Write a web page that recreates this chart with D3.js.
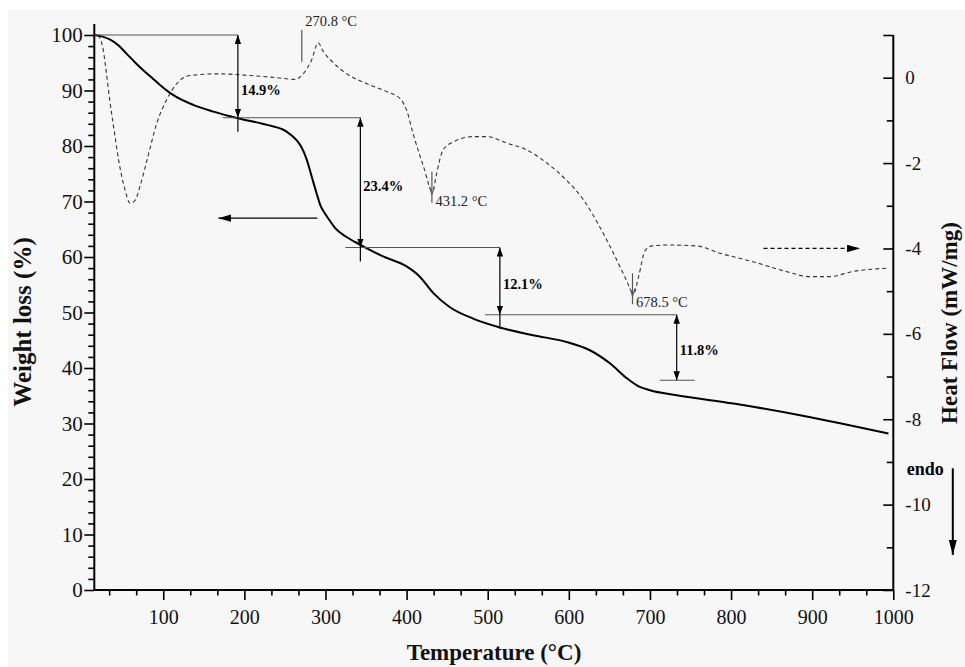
<!DOCTYPE html>
<html>
<head>
<meta charset="utf-8">
<script src="https://cdn.jsdelivr.net/npm/d3@7"></script>
<style>
  html, body { margin: 0; padding: 0; background: #fff; }
  svg { display: block; }
  text { font-family: "Liberation Serif", "Times New Roman", serif; }
</style>
</head>
<body>
<svg id="chart" width="965" height="667"></svg>
<script>
// TG curve: temperature (°C) and remaining mass (%)
const tgTemp = [15, 25, 34, 45, 55, 65, 75, 86, 96, 112, 137, 162, 192, 228, 252, 264, 270, 277, 283,
  289, 294, 300, 306, 312, 325, 343, 371, 400, 416, 433, 453, 482, 515, 556, 597, 626, 651, 672,
  686, 700, 733, 803, 885, 994];
const tgWeight = [100, 99.7, 99.2, 98.1, 96.6, 95.1, 93.7, 92.3, 91.0, 89.2, 87.4, 86.2, 85.0, 83.8,
  82.6, 81.1, 79.9, 77.5, 74.5, 71.5, 69.2, 67.7, 66.4, 65.2, 63.7, 62.2, 60.1, 58.3, 56.5, 53.5,
  51.0, 48.9, 47.3, 45.9, 44.7, 43.2, 40.8, 38.1, 36.7, 36.0, 35.1, 33.6, 31.5, 28.2];

// DSC curve: temperature (°C) and heat flow (mW/mg)
const dscTemp = [20, 26, 30, 34, 40, 45, 53, 59, 65, 72, 80, 92, 104, 117, 133, 166, 207, 240, 262,
  273, 283, 291, 297, 308, 328, 351, 376, 392, 400, 408, 421, 432, 437, 445, 458, 482, 499, 523,
  548, 573, 597, 618, 638, 655, 669, 680, 686, 694, 703, 724, 757, 786, 827, 868, 897, 921, 950, 994];
const dscHeat = [1.0, 0.65, 0.1, -0.52, -1.3, -1.93, -2.63, -2.94, -2.88, -2.5, -1.93, -1.07, -0.52,
  -0.13, 0.05, 0.09, 0.05, 0.0, -0.04, 0.1, 0.42, 0.82, 0.62, 0.38, 0.07, -0.14, -0.33, -0.49,
  -0.76, -1.31, -2.09, -2.67, -2.24, -1.69, -1.5, -1.38, -1.38, -1.53, -1.69, -2.0, -2.4, -2.86,
  -3.49, -4.11, -4.66, -5.05, -4.66, -4.05, -3.94, -3.92, -3.94, -4.11, -4.31, -4.54, -4.66,
  -4.66, -4.54, -4.46];

// Axis ticks
const tempTicks = [100, 200, 300, 400, 500, 600, 700, 800, 900, 1000];
const weightTicks = [0, 10, 20, 30, 40, 50, 60, 70, 80, 90, 100];
const heatTicks = [-12, -10, -8, -6, -4, -2, 0];

// Mass-loss steps: temperature where each step is measured, loss in %
const stepTemp = [192, 343, 515, 733];
const stepLoss = [14.9, 23.4, 12.1, 11.8];
const stepLabels = ["14.9%", "23.4%", "12.1%", "11.8%"];

// DSC peak temperatures
const peakTemp = [270.8, 431.2, 678.5];
const peakLabels = ["270.8 °C", "431.2 °C", "678.5 °C"];
const peakKind = ["exo", "endo", "endo"];

const tg = tgTemp.map((t, i) => ({ t, w: tgWeight[i] }));
const dsc = dscTemp.map((t, i) => ({ t, h: dscHeat[i] }));

const svg = d3.select("#chart");
const W = 965, H = 667;

// paper background
svg.append("rect").attr("width", W).attr("height", H).attr("fill", "#ffffff");
svg.append("rect").attr("x", 8).attr("y", 10).attr("width", W - 8).attr("height", H - 10)
  .attr("fill", "#f7f7f7");

const x = d3.scaleLinear().domain([15, 1000]).range([94.3, 893.3]);
const yW = d3.scaleLinear().domain([0, 100]).range([590, 35]);
const yH = d3.scaleLinear().domain([-12, 1]).range([590, 35]);

const x0 = x.range()[0], x1 = x(1000), yBase = yW(0);

// heat flow at a given temperature, linear between samples
function dscAt(t) {
  const i = Math.max(1, Math.min(dscTemp.length - 1, d3.bisectLeft(dscTemp, t)));
  const ta = dscTemp[i - 1], tb = dscTemp[i];
  return dscHeat[i - 1] + (dscHeat[i] - dscHeat[i - 1]) * (t - ta) / (tb - ta);
}

// arrowheads
const defs = svg.append("defs");
function head(id, len, wid, color) {
  defs.append("marker").attr("id", id)
    .attr("viewBox", "0 0 10 10").attr("refX", 10).attr("refY", 5)
    .attr("markerWidth", len).attr("markerHeight", wid)
    .attr("markerUnits", "userSpaceOnUse").attr("preserveAspectRatio", "none")
    .attr("orient", "auto-start-reverse")
    .append("path").attr("d", "M0,0L10,5L0,10Z").attr("fill", color);
}
head("hs", 9, 6.5, "#000");
head("hl", 13, 7.5, "#000");
head("he", 15, 8, "#000");

// ---------- axes ----------
const tickFont = (g, size) => g.selectAll("text")
  .style("font-family", '"Liberation Serif", "Times New Roman", serif')
  .style("font-size", size + "px").attr("fill", "#111");
const tickLine = g => g.selectAll(".tick line").attr("stroke", "#000").attr("stroke-width", 1.6);

// left: weight
const minorW = d3.range(2, 101, 2).filter(v => v % 10 !== 0);
const gL = svg.append("g").attr("transform", `translate(${x0},0)`);
gL.append("g").call(d3.axisLeft(yW).tickValues(minorW).tickSize(6).tickFormat(""))
  .call(g => g.select(".domain").remove()).call(tickLine);
gL.append("g").call(d3.axisLeft(yW).tickValues(weightTicks).tickSize(10).tickPadding(1.5)
  .tickFormat(d3.format("d")))
  .call(g => g.select(".domain").remove()).call(tickLine).call(g => tickFont(g, 21));
gL.append("line").attr("y1", yW(0)).attr("y2", yW(102)).attr("stroke", "#000").attr("stroke-width", 2);

// bottom: temperature
const minorT = d3.range(0, 1000, 100).flatMap(v => [v + 100 / 3, v + 200 / 3]).filter(v => v > 15);
const gB = svg.append("g").attr("transform", `translate(0,${yBase})`);
gB.append("g").call(d3.axisBottom(x).tickValues(minorT).tickSize(5.5).tickFormat(""))
  .call(g => g.select(".domain").remove()).call(tickLine);
gB.append("g").call(d3.axisBottom(x).tickValues(tempTicks).tickSize(10).tickPadding(10)
  .tickFormat(d3.format("d")))
  .call(g => g.select(".domain").remove()).call(tickLine).call(g => tickFont(g, 20));
gB.append("line").attr("x1", x0).attr("x2", x1).attr("stroke", "#000").attr("stroke-width", 2);

// right: heat flow, ticks pointing inward
const minorH = [-11, -9, -7, -5, -3, -1];
const gR = svg.append("g").attr("transform", `translate(${x1},0)`);
gR.append("g").call(d3.axisRight(yH).tickValues(minorH).tickSize(-6.5).tickFormat(""))
  .call(g => g.select(".domain").remove()).call(tickLine);
gR.append("g").call(d3.axisRight(yH).tickValues([1]).tickSize(-10).tickFormat(""))
  .call(g => g.select(".domain").remove()).call(tickLine);
gR.append("g").call(d3.axisRight(yH).tickValues(heatTicks).tickSize(-10).tickPadding(12)
  .tickFormat(d => String(d)))
  .call(g => g.select(".domain").remove()).call(tickLine).call(g => tickFont(g, 19));
gR.append("line").attr("y1", yH(-12)).attr("y2", yH(1)).attr("stroke", "#000").attr("stroke-width", 2);

// axis titles
svg.append("text").attr("transform", `translate(31,322) rotate(-90)`)
  .attr("text-anchor", "middle").attr("font-weight", "bold").attr("font-size", 25)
  .attr("fill", "#111").text("Weight loss (%)");
svg.append("text").attr("x", 494).attr("y", 660)
  .attr("text-anchor", "middle").attr("font-weight", "bold").attr("font-size", 23)
  .attr("fill", "#111").text("Temperature (°C)");
svg.append("text").attr("transform", `translate(957,323) rotate(-90)`)
  .attr("text-anchor", "middle").attr("font-weight", "bold").attr("font-size", 23)
  .attr("fill", "#111").text("Heat Flow (mW/mg)");

// ---------- curves ----------
svg.append("path").datum(dsc)
  .attr("d", d3.line().x(d => x(d.t)).y(d => yH(d.h)).curve(d3.curveMonotoneX))
  .attr("fill", "none").attr("stroke", "#333").attr("stroke-width", 1.1)
  .attr("stroke-dasharray", "4,3");

svg.append("path").datum(tg)
  .attr("d", d3.line().x(d => x(d.t)).y(d => yW(d.w)).curve(d3.curveMonotoneX))
  .attr("fill", "none").attr("stroke", "#000").attr("stroke-width", 2);

// ---------- mass-loss steps ----------
const levels = [100];
stepLoss.forEach(v => levels.push(+(levels[levels.length - 1] - v).toFixed(1)));
const gS = svg.append("g");
// horizontal reference levels
levels.forEach((lv, i) => {
  let xa, xb;
  if (i === 0) { xa = x0; xb = x(stepTemp[0]); }
  else if (i < stepTemp.length) { xa = x(stepTemp[i - 1]) - 15; xb = x(stepTemp[i]); }
  else { xa = x(stepTemp[i - 1]) - 17; xb = x(stepTemp[i - 1]) + 18; }
  gS.append("line").attr("x1", xa).attr("x2", xb).attr("y1", yW(lv)).attr("y2", yW(lv))
    .attr("stroke", "#555").attr("stroke-width", 1.1);
});
// double-headed dimension arrows
stepTemp.forEach((t, i) => {
  const xs = x(t), ya = yW(levels[i]), yb = yW(levels[i + 1]);
  gS.append("line").attr("x1", xs).attr("x2", xs).attr("y1", ya).attr("y2", yb)
    .attr("stroke", "#000").attr("stroke-width", 1.2)
    .attr("marker-start", "url(#hs)").attr("marker-end", "url(#hs)");
  if (i < stepTemp.length - 1) {
    gS.append("line").attr("x1", xs).attr("x2", xs).attr("y1", yb).attr("y2", yb + 14)
      .attr("stroke", "#000").attr("stroke-width", 1.2);
  }
  // label at mid-arrow, pushed below the DSC trace when the two would collide
  let cy = (ya + yb) / 2 + 3;
  const curveY = yH(dscAt(t + 25));
  if (Math.abs(cy - curveY) < 10) cy = curveY + 14;
  gS.append("text").attr("x", xs + 3).attr("y", cy + 5)
    .attr("font-weight", "bold").attr("font-size", 14.5).attr("fill", "#000")
    .text(stepLabels[i]);
});

// ---------- DSC peak markers ----------
const gP = svg.append("g");
peakTemp.forEach((t, i) => {
  const near = dsc.filter(d => Math.abs(d.t - t) <= 25);
  const ext = peakKind[i] === "exo" ? d3.max(near, d => d.h) : d3.min(near, d => d.h);
  const px = x(t), py = yH(ext);
  if (peakKind[i] === "exo") {
    gP.append("line").attr("x1", px).attr("x2", px).attr("y1", py - 13).attr("y2", py + 19)
      .attr("stroke", "#555").attr("stroke-width", 1.2);
    gP.append("text").attr("x", px + 3.5).attr("y", py - 17)
      .attr("font-size", 14.5).attr("fill", "#222").text(peakLabels[i]);
  } else {
    const top = py - 20, bot = py + 11;
    gP.append("line").attr("x1", px).attr("x2", px).attr("y1", top).attr("y2", bot)
      .attr("stroke", "#555").attr("stroke-width", 1.2);
    gP.append("path").attr("d", `M${px - 2.5},${py - 5}L${px},${py + 3}L${px + 2.5},${py - 5}`)
      .attr("fill", "none").attr("stroke", "#555").attr("stroke-width", 1);
    gP.append("text").attr("x", px + 3.5).attr("y", bot + 3)
      .attr("font-size", 14.5).attr("fill", "#222").text(peakLabels[i]);
  }
});

// ---------- curve-to-axis arrows ----------
svg.append("line").attr("x1", x(290)).attr("x2", x(168)).attr("y1", yW(67)).attr("y2", yW(67))
  .attr("stroke", "#000").attr("stroke-width", 1.2).attr("marker-end", "url(#hl)");
svg.append("line").attr("x1", x(840)).attr("x2", x(959)).attr("y1", yH(-4)).attr("y2", yH(-4))
  .attr("stroke", "#000").attr("stroke-width", 1.2).attr("stroke-dasharray", "4,3")
  .attr("marker-end", "url(#hl)");

// endothermic direction
svg.append("text").attr("x", x1 + 13.5).attr("y", yH(-9.3))
  .attr("font-weight", "bold").attr("font-size", 18).attr("fill", "#000").text("endo");
svg.append("line").attr("x1", x1 + 59.5).attr("x2", x1 + 59.5)
  .attr("y1", yH(-9.15)).attr("y2", yH(-11.18))
  .attr("stroke", "#000").attr("stroke-width", 2).attr("marker-end", "url(#he)");
</script>
</body>
</html>
